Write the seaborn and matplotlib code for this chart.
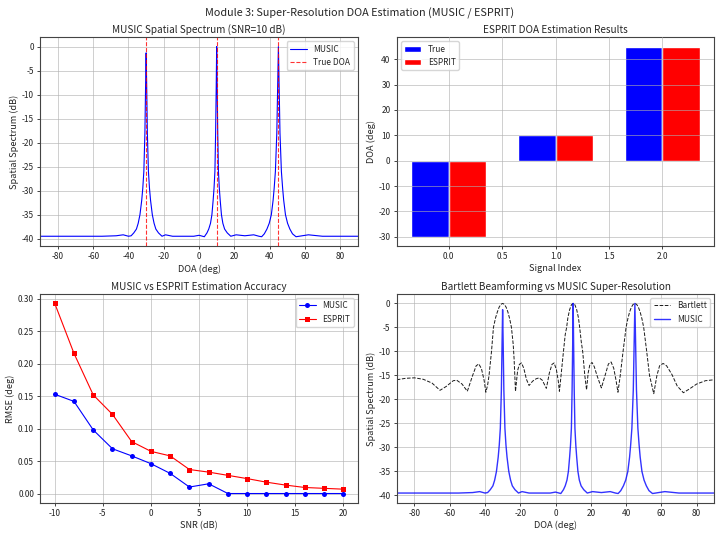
import numpy as np
import pandas as pd
import matplotlib
matplotlib.use('Agg')
import matplotlib.pyplot as plt
import seaborn as sns

sns.set_theme(style='ticks')
plt.rcParams['font.family'] = ['Noto Sans CJK SC', 'DejaVu Sans']
plt.rcParams['axes.unicode_minus'] = False

BLUE = '#0000ff'
RED = '#ff0000'

# true directions of arrival
true_doa = [-30, 10, 45]
esprit_doa = [-30.0, 10.0, 45.0]
signal_index = [0, 1, 2]

# MUSIC spectrum (deg, dB)
music_angle = [-90, -70, -55, -47, -43, -40, -38.5,
               -37, -35.5, -34.5, -33.5, -32.5, -31.9, -31.3, -30.7, -30.3, -30,
               -29.7, -29.3, -28.7, -28.1, -27.5, -26.5, -25.5, -24.5, -23,
               -21, -19, -15, -8, -3, 0, 3,
               4.5, 5.5, 6.5, 7.3, 8.0, 8.5, 9.0, 9.4, 9.75, 10,
               10.25, 10.6, 11.0, 11.5, 12.0, 12.7, 13.5, 14.5, 16,
               18, 21, 26, 31, 34, 35.5,
               37, 38.5, 39.8, 41, 42, 42.6, 43.3, 44.1, 44.6, 45,
               45.4, 45.9, 46.7, 47.4, 48, 49, 50.2, 51.5, 53,
               55, 62, 70, 90]
music_db = [-39.5, -39.5, -39.5, -39.4, -39.2, -39.5, -39.4,
            -38.8, -38.0, -36.8, -35.0, -32.0, -29.5, -26.0, -18.0, -8.0, -1.3,
            -8.0, -18.0, -26.0, -29.5, -32.0, -35.0, -36.8, -38.0, -38.8,
            -39.5, -39.2, -39.5, -39.5, -39.5, -39.3, -39.6,
            -38.8, -38.0, -36.8, -35.0, -32.0, -29.5, -26.0, -18.0, -8.0, 0.0,
            -8.0, -18.0, -26.0, -29.5, -32.0, -35.0, -36.8, -38.0, -38.8,
            -39.5, -39.2, -39.4, -39.2, -39.5, -39.6,
            -39.0, -38.0, -36.8, -35.0, -32.0, -29.5, -26.0, -18.0, -8.0, 0.0,
            -8.0, -18.0, -26.0, -29.5, -32.0, -35.0, -36.8, -38.0, -39.0,
            -39.6, -39.2, -39.5, -39.5]

# Bartlett spectrum (deg, dB)
bart_angle = [-90, -85, -80, -75, -70, -65.5, -62, -58, -56, -53, -50, -47, -45, -43.5, -42,
              -40.5, -39.5, -38.5, -37.7, -36.3, -35.2, -34, -33, -32, -31, -30, -29, -28,
              -27, -26, -25, -24, -23.5, -22.7, -21.5, -20.5, -19.3, -18, -16.5, -15, -13,
              -11, -9.3, -7.5, -5.2, -3.5, -2, -0.8, 0.5, 1.5, 2.2, 3.0, 4.5, 5.5, 6.3, 7,
              8, 9, 10, 11, 12, 13, 13.7, 14.6, 15.4, 16.6, 17.6, 18.5, 19.5, 20.7, 22,
              23.5, 26, 28.5, 30, 31.5, 33, 34.3, 35.4, 36.7, 38.3, 40, 41, 42, 43, 44, 45,
              46, 47, 48, 49, 50, 51.7, 53.3, 55.7, 57.5, 59, 61, 63, 66, 69, 72.5, 76, 80,
              85, 90]
bart_db = [-15.9, -15.6, -15.5, -15.8, -16.6, -18.1, -17.3, -16.1, -16.0, -16.8, -18.3, -15.0,
           -13.0, -12.6, -13.6, -16.0, -18.5, -17.0, -15.0, -10.0, -5.0, -3.0, -1.8, -0.8,
           -0.2, 0.0, -0.2, -0.8, -1.8, -3.2, -5.0, -8.5, -11.5, -18.3, -14.0, -12.7, -12.4,
           -13.5, -15.8, -17.1, -16.2, -15.7, -15.5, -16.0, -17.7, -14.5, -12.7, -12.4,
           -13.8, -16.0, -18.3, -15.5, -10.0, -6.5, -5.0, -3.0, -1.3, -0.3, 0.0, -0.3,
           -1.3, -3.0, -5.0, -8.0, -10.0, -15.0, -18.0, -14.5, -12.7, -12.3, -13.2, -15.0,
           -17.6, -14.5, -12.6, -12.2, -13.5, -16.0, -18.5, -15.0, -10.0, -5.0, -3.2, -1.8,
           -0.8, -0.2, 0.0, -0.2, -0.8, -1.8, -3.2, -5.0, -10.0, -15.0, -18.8, -15.0, -13.0,
           -12.5, -13.0, -14.8, -17.2, -18.6, -17.8, -16.8, -16.1, -15.9]

# RMSE vs SNR
snr = [-10, -8, -6, -4, -2, 0, 2, 4, 6, 8, 10, 12, 14, 16, 18, 20]
rmse_music = [0.153, 0.142, 0.098, 0.069, 0.058, 0.046, 0.031, 0.010, 0.015,
              0.0, 0.0, 0.0, 0.0, 0.0, 0.0, 0.0]
rmse_esprit = [0.293, 0.216, 0.152, 0.122, 0.080, 0.065, 0.058, 0.037, 0.033,
               0.028, 0.023, 0.0175, 0.013, 0.0093, 0.008, 0.0067]

music_df = pd.DataFrame({'doa': music_angle, 'db': music_db})
bart_df = pd.DataFrame({'doa': bart_angle, 'db': bart_db})
rmse_df = pd.DataFrame({'snr': snr, 'MUSIC': rmse_music, 'ESPRIT': rmse_esprit})

fs_tick = 6
fs_label = 6.6
fs_title = 7.2
fs_leg = 6

fig, axes = plt.subplots(2, 2, figsize=(7.2, 5.38), dpi=100)
fig.subplots_adjust(left=0.056, right=0.992, top=0.931, bottom=0.065, wspace=0.123, hspace=0.228)
fig.suptitle('Module 3: Super-Resolution DOA Estimation (MUSIC / ESPRIT)', fontsize=7.8, y=0.985)

grid_kw = dict(color='#b0b0b0', alpha=0.6, linewidth=0.7)

# MUSIC spectrum
ax = axes[0, 0]
sns.lineplot(data=music_df, x='doa', y='db', ax=ax, color=BLUE, linewidth=0.8, label='MUSIC')
for i, d in enumerate(true_doa):
    ax.axvline(d, color=RED, linestyle='--', linewidth=0.8, alpha=0.8,
               label='True DOA' if i == 0 else None)
ax.set_xlim(-90, 90)
ax.set_xticks(np.arange(-80, 81, 20))
ax.set_yticks(np.arange(-40, 1, 5))
ax.set_title('MUSIC Spatial Spectrum (SNR=10 dB)', fontsize=fs_title, pad=3)
ax.set_xlabel('DOA (deg)', fontsize=fs_label, labelpad=2)
ax.set_ylabel('Spatial Spectrum (dB)', fontsize=fs_label, labelpad=2)
ax.legend(loc='upper right', fontsize=fs_leg)
ax.grid(True, **grid_kw)

# ESPRIT bars
ax = axes[0, 1]
w = 0.35
x = np.array(signal_index)
ax.bar(x - w / 2, true_doa, w, color=BLUE, label='True')
ax.bar(x + w / 2, esprit_doa, w, color=RED, label='ESPRIT')
ax.set_axisbelow(False)
ax.set_title('ESPRIT DOA Estimation Results', fontsize=fs_title, pad=3)
ax.set_xlabel('Signal Index', fontsize=fs_label, labelpad=2)
ax.set_ylabel('DOA (deg)', fontsize=fs_label, labelpad=2)
ax.legend(loc='upper left', fontsize=fs_leg)
ax.grid(True, **grid_kw)

# RMSE curves
ax = axes[1, 0]
sns.lineplot(data=rmse_df, x='snr', y='MUSIC', ax=ax, color=BLUE, marker='o',
             markersize=3.6, markeredgewidth=0, linewidth=0.8, label='MUSIC')
sns.lineplot(data=rmse_df, x='snr', y='ESPRIT', ax=ax, color=RED, marker='s',
             markersize=3.6, markeredgewidth=0, linewidth=0.8, label='ESPRIT')
ax.set_title('MUSIC vs ESPRIT Estimation Accuracy', fontsize=fs_title, pad=3)
ax.set_xlabel('SNR (dB)', fontsize=fs_label, labelpad=2)
ax.set_ylabel('RMSE (deg)', fontsize=fs_label, labelpad=2)
ax.legend(loc='upper right', fontsize=fs_leg)
ax.grid(True, **grid_kw)

# Bartlett vs MUSIC
ax = axes[1, 1]
sns.lineplot(data=bart_df, x='doa', y='db', ax=ax, color='k', linestyle='--',
             linewidth=0.7, label='Bartlett')
sns.lineplot(data=music_df, x='doa', y='db', ax=ax, color=BLUE, linewidth=1.0,
             alpha=0.8, label='MUSIC')
ax.set_xlim(-90, 90)
ax.set_xticks(np.arange(-80, 81, 20))
ax.set_yticks(np.arange(-40, 1, 5))
ax.set_title('Bartlett Beamforming vs MUSIC Super-Resolution', fontsize=fs_title, pad=3)
ax.set_xlabel('DOA (deg)', fontsize=fs_label, labelpad=2)
ax.set_ylabel('Spatial Spectrum (dB)', fontsize=fs_label, labelpad=2)
ax.legend(loc='upper right', fontsize=fs_leg)
ax.grid(True, **grid_kw)

for ax in axes.flat:
    ax.tick_params(labelsize=fs_tick, length=2.5, width=0.6, pad=2)
    for s in ax.spines.values():
        s.set_color('#444444')
        s.set_linewidth(0.8)

fig.savefig('out.png', dpi=100)
